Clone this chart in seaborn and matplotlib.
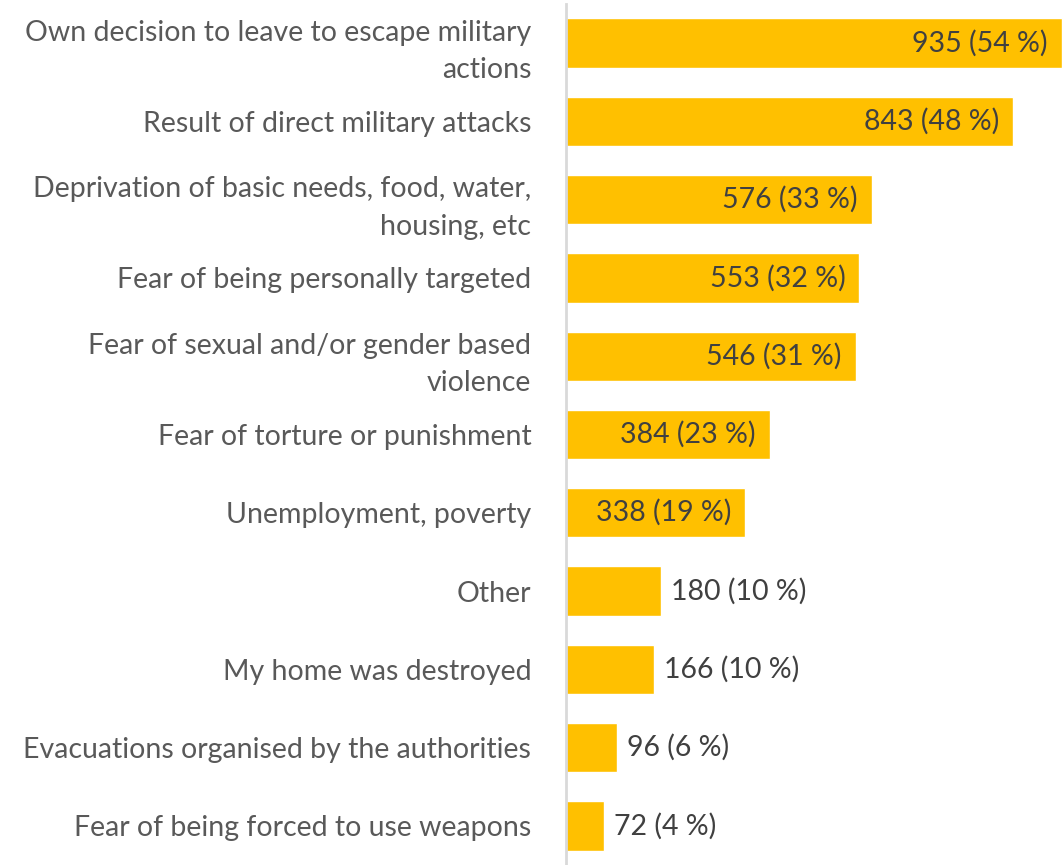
import numpy as np
import pandas as pd
import seaborn as sns
import matplotlib.pyplot as plt

reasons = [
    'Own decision to leave to escape military\nactions',
    'Result of direct military attacks',
    'Deprivation of basic needs, food, water,\nhousing, etc',
    'Fear of being personally targeted',
    'Fear of sexual and/or gender based\nviolence',
    'Fear of torture or punishment',
    'Unemployment, poverty',
    'Other',
    'My home was destroyed',
    'Evacuations organised by the authorities',
    'Fear of being forced to use weapons',
]
counts = [935, 843, 576, 553, 546, 384, 338, 180, 166, 96, 72]
shares = [54, 48, 33, 32, 31, 23, 19, 10, 10, 6, 4]

df = pd.DataFrame({'reason': reasons, 'count': counts, 'share': shares})

sns.set_style('white')
plt.rcParams['font.family'] = ['Lato', 'DejaVu Sans']

fig = plt.figure(figsize=(10.63, 8.65), dpi=100)
ax = fig.add_axes([566 / 1063, 0.0, 1 - 566 / 1063, 861 / 865])

sns.barplot(data=df, y='reason', x='count', orient='h', color='#FFC000',
            saturation=1, width=0.63, ax=ax)

ax.set_xlim(0, 937)
ax.set_ylim(10.5, -0.5)
ax.set_xlabel('')
ax.set_ylabel('')
ax.set_xticks([])
for s in ['top', 'right', 'bottom']:
    ax.spines[s].set_visible(False)
ax.spines['left'].set_color('#D9D9D9')
ax.spines['left'].set_linewidth(2)

ax.tick_params(axis='y', length=0, pad=25)
for lbl in ax.get_yticklabels():
    lbl.set_fontsize(20.5)
    lbl.set_color('#595959')
    lbl.set_linespacing(1.55)
    lbl.set_horizontalalignment('right')

# value labels: inside for long bars, outside for short ones
for i, (c, p) in enumerate(zip(counts, shares)):
    txt = '{} ({} %)'.format(c, p)
    if c > 300:
        ax.annotate(txt, (c, i), xytext=(-14, 0), textcoords='offset pixels',
                    ha='right', va='center', fontsize=20.5, color='#404040')
    else:
        ax.annotate(txt, (c, i), xytext=(10, 0), textcoords='offset pixels',
                    ha='left', va='center', fontsize=20.5, color='#404040')

fig.savefig('out.png', dpi=100)
